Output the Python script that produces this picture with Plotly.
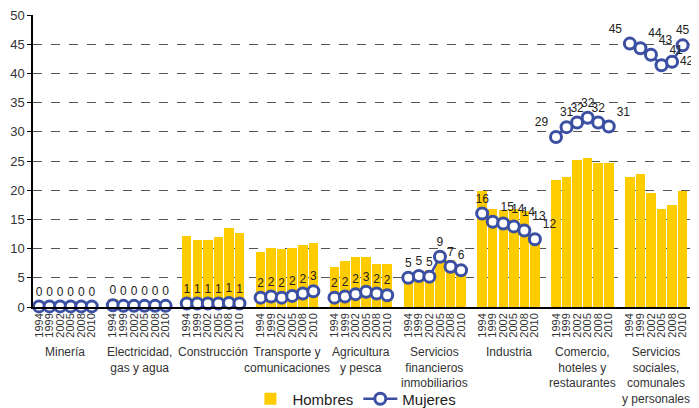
import plotly.graph_objects as go

# Datos
sectores = ['Minería', 'Electricidad,<br>gas y agua', 'Construcción',
            'Transporte y<br>comunicaciones', 'Agricultura<br>y pesca',
            'Servicios<br>financieros<br>inmobiliarios', 'Industria',
            'Comercio,<br>hoteles y<br>restaurantes',
            'Servicios<br>sociales,<br>comunales<br>y personales']
anios = ['1994', '1999', '2002', '2005', '2008', '2010']

hombres = [
    [0.7, 0.6, 0.6, 0.7, 0.8, 0.7],
    [1.3, 0.8, 0.7, 0.7, 0.8, 0.8],
    [12.2, 11.5, 11.4, 12.0, 13.6, 12.7],
    [9.5, 10.1, 10.0, 10.1, 10.7, 10.9],
    [6.9, 7.9, 8.6, 8.6, 7.4, 7.4],
    [5.5, 5.9, 6.4, 9.4, 8.1, 6.5],
    [19.8, 16.8, 16.6, 16.7, 16.5, 12.3],
    [21.7, 22.3, 25.1, 25.6, 24.6, 24.7],
    [22.3, 22.7, 19.6, 16.7, 17.4, 19.8],
]
mujeres = [
    [0.1, 0.1, 0.1, 0.1, 0.1, 0.1],
    [0.3, 0.2, 0.2, 0.2, 0.2, 0.2],
    [0.6, 0.6, 0.6, 0.6, 0.7, 0.6],
    [1.6, 1.8, 1.6, 1.9, 2.3, 2.7],
    [1.6, 1.8, 2.2, 2.6, 2.3, 2.0],
    [5.0, 5.3, 5.2, 8.6, 6.9, 6.3],
    [16.0, 14.6, 14.3, 13.8, 13.1, 11.6],
    [29.1, 30.8, 31.6, 32.4, 31.6, 30.9],
    [45.1, 44.3, 43.2, 41.4, 42.0, 44.8],
]
pos_etiquetas = [
    ['top center'] * 6,
    ['top center'] * 6,
    ['top center'] * 6,
    ['top center'] * 6,
    ['top center'] * 6,
    ['top center'] * 6,
    ['top center', 'top right', 'top right', 'top right', 'top right', 'top right'],
    ['top left', 'top center', 'top center', 'top center', 'top center', 'top right'],
    ['top left', 'top right', 'top right', 'top right', 'middle right', 'top center'],
]

paso = 7
xb, yb, xm, ym, tm, pm, tickvals, ticktext = [], [], [], [], [], [], [], []
for g in range(len(sectores)):
    for i in range(len(anios)):
        x = g * paso + i
        xb.append(x); yb.append(hombres[g][i])
        xm.append(x); ym.append(mujeres[g][i])
        tm.append(f"{mujeres[g][i]:.0f}"); pm.append(pos_etiquetas[g][i])
        tickvals.append(x); ticktext.append(anios[i])
    xm.append(None); ym.append(None); tm.append(''); pm.append('top center')

azul = '#3B4FA3'
fig = go.Figure()
fig.add_trace(go.Bar(x=xb, y=yb, name='Hombres', marker_color='#FFCC00',
                     marker_line_width=0, width=0.9))
fig.add_trace(go.Scatter(x=xm, y=ym, name='Mujeres', mode='lines+markers+text',
                         line=dict(color=azul, width=2.5),
                         marker=dict(size=11, color='white', line=dict(color=azul, width=3)),
                         text=tm, textposition=pm,
                         textfont=dict(size=12, color='#222'), cliponaxis=False))

for g, s in enumerate(sectores):
    fig.add_annotation(x=g * paso + 2.5, y=-0.123, xref='x', yref='paper', text=s,
                       showarrow=False, yanchor='top', font=dict(size=12, color='#333'))

# la página tiene 8px de margen en el body, así que el tamaño se reduce
fig.update_layout(
    width=691, height=400, margin=dict(l=25, r=9, t=7, b=101, autoexpand=False),
    plot_bgcolor='white', paper_bgcolor='white',
    font=dict(family='Arial, Liberation Sans, sans-serif', color='#333'),
    bargap=0, showlegend=True,
    legend=dict(orientation='h', x=0.49, xanchor='center', y=-0.315, yanchor='middle',
                font=dict(size=15, color='#222'), itemwidth=34),
)
fig.update_xaxes(range=[-0.57, 61.7], tickvals=tickvals, ticktext=ticktext, tickangle=-90,
                 tickfont=dict(size=11, color='#333'), showgrid=False, showline=True,
                 linecolor='black', linewidth=1.5, ticks='', zeroline=False, automargin=False)
fig.update_yaxes(range=[0, 50], dtick=5, showgrid=True, gridcolor='#555', griddash='dash',
                 gridwidth=1.2, showline=True, linecolor='black', linewidth=1.5, ticks='outside',
                 ticklen=4, tickcolor='black', tickfont=dict(size=13, color='#333'), zeroline=False,
                 automargin=False, ticklabeloverflow='allow')

fig.write_html("out.html")
